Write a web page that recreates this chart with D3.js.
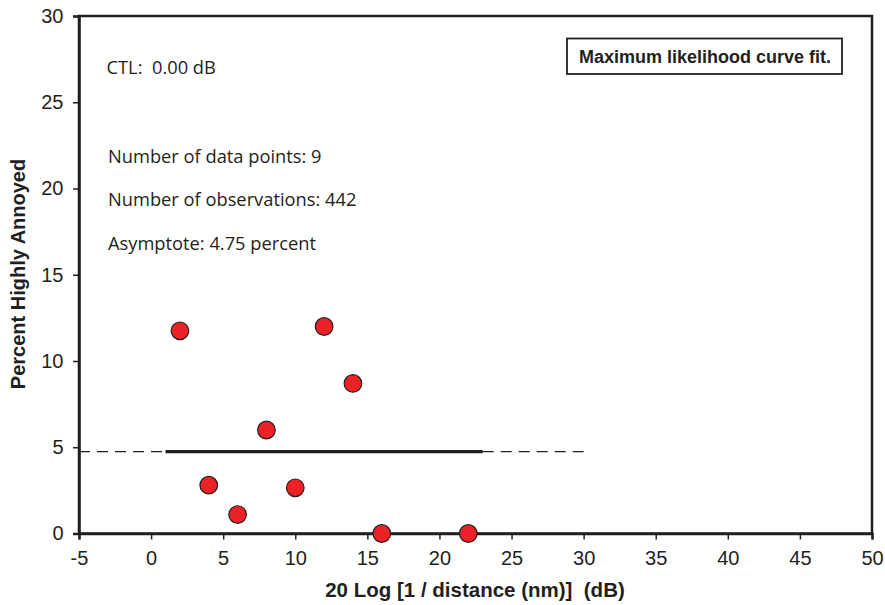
<!DOCTYPE html>
<html>
<head>
<meta charset="utf-8">
<script src="https://cdn.jsdelivr.net/npm/d3@7"></script>
<style>
  body { margin: 0; background: #fff; }
  svg { display: block; }
  text { white-space: pre; }
</style>
</head>
<body>
<svg id="chart" width="885" height="605"></svg>
<script>
// Observed points: level (dB) vs. percent highly annoyed
const levels  = [2, 4, 6, 8, 10, 12, 14, 16, 22];
const percent = [11.75, 2.8, 1.1, 6.0, 2.65, 12.0, 8.7, 0, 0];

// Fitted asymptote and its extent
const asymptote = 4.75;
const fitSolid = [1, 23];
const fitDashLeft = [-5, 1];
const fitDashRight = [23, 30];

const xTicks = [-5, 0, 5, 10, 15, 20, 25, 30, 35, 40, 45, 50];
const yTicks = [0, 5, 10, 15, 20, 25, 30];

const notes = [
  { text: "CTL:  0.00 dB", y: 27 },
  { text: "Number of data points: 9", y: 21.8 },
  { text: "Number of observations: 442", y: 19.35 },
  { text: "Asymptote: 4.75 percent", y: 16.8 }
];

const ink = "#231f20";
const svg = d3.select("#chart");
const m = { left: 79, right: 872, top: 16, bottom: 533.5 };

const x = d3.scaleLinear().domain([-5, 50]).range([m.left, m.right]);
const y = d3.scaleLinear().domain([0, 30]).range([m.bottom, m.top]);

// Frame
svg.append("rect")
  .attr("x", m.left).attr("y", m.top)
  .attr("width", m.right - m.left).attr("height", m.bottom - m.top)
  .attr("fill", "none").attr("stroke", ink).attr("stroke-width", 2.5);

// Axes
const fmt = d => String(d);
const xAxis = svg.append("g")
  .attr("transform", `translate(0,${m.bottom})`)
  .call(d3.axisBottom(x).tickValues(xTicks).tickSize(6).tickPadding(11).tickFormat(fmt));
const yAxis = svg.append("g")
  .attr("transform", `translate(${m.left},0)`)
  .call(d3.axisLeft(y).tickValues(yTicks).tickSize(6).tickPadding(9.5).tickFormat(fmt));

[xAxis, yAxis].forEach(g => {
  g.select(".domain").attr("stroke", ink).attr("stroke-width", 2.5);
  g.selectAll(".tick line").attr("stroke", ink).attr("stroke-width", 1.5);
  g.selectAll(".tick text")
    .attr("fill", ink)
    .style("font-family", "'Liberation Sans', Arial, sans-serif")
    .style("font-size", "20px");
});

// Fit line: dashed extensions and solid core
const line = d3.line().x(d => x(d)).y(() => y(asymptote));
[fitDashLeft, fitDashRight].forEach(seg => {
  svg.append("path")
    .attr("d", line(seg))
    .attr("stroke", ink).attr("stroke-width", 1.3)
    .attr("stroke-dasharray", "11,7").attr("fill", "none");
});
svg.append("path")
  .attr("d", line(fitSolid))
  .attr("stroke", ink).attr("stroke-width", 3.2).attr("fill", "none");

// Data points
svg.append("g").selectAll("circle")
  .data(levels.map((l, i) => [l, percent[i]]))
  .join("circle")
  .attr("cx", d => x(d[0]))
  .attr("cy", d => y(d[1]))
  .attr("r", 8.8)
  .attr("fill", "#ec2227")
  .attr("stroke", ink)
  .attr("stroke-width", 1.2);

// Annotation text
svg.append("g").selectAll("text")
  .data(notes)
  .join("text")
  .attr("x", (d, i) => i === 0 ? 106.5 : 108)
  .attr("y", d => y(d.y) + 6)
  .attr("fill", ink)
  .style("font-family", "'Open Sans', Lato, sans-serif")
  .style("font-size", "18.3px")
  .text(d => d.text);

// Legend-style box
svg.append("rect")
  .attr("x", 567).attr("y", 38.5).attr("width", 275).attr("height", 35.5)
  .attr("fill", "#fff").attr("stroke", ink).attr("stroke-width", 1.8);
svg.append("text")
  .attr("x", 705).attr("y", 62.5)
  .attr("text-anchor", "middle")
  .attr("fill", ink)
  .style("font-family", "'Liberation Sans', Arial, sans-serif")
  .style("font-weight", "bold")
  .style("font-size", "18px")
  .text("Maximum likelihood curve fit.");

// Axis titles
svg.append("text")
  .attr("x", 475).attr("y", 597)
  .attr("text-anchor", "middle")
  .attr("fill", ink)
  .style("font-family", "'Liberation Sans', Arial, sans-serif")
  .style("font-weight", "bold")
  .style("font-size", "20.5px")
  .text("20 Log [1 / distance (nm)]  (dB)");

svg.append("text")
  .attr("transform", "translate(25,274) rotate(-90)")
  .attr("text-anchor", "middle")
  .attr("fill", ink)
  .style("font-family", "'Liberation Sans', Arial, sans-serif")
  .style("font-weight", "bold")
  .style("font-size", "20px")
  .text("Percent Highly Annoyed");
</script>
</body>
</html>
